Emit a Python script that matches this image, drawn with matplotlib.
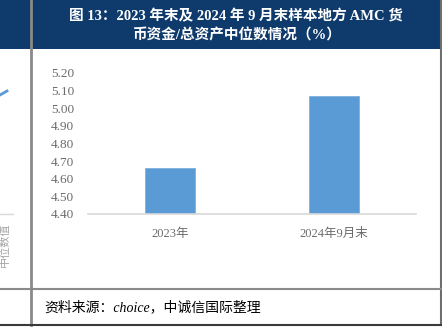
import matplotlib.pyplot as plt
from matplotlib.patches import Rectangle
from matplotlib.lines import Line2D

categories = ['2023年', '2024年9月末']
values = [4.66, 5.07]
y_ticks = [4.40, 4.50, 4.60, 4.70, 4.80, 4.90, 5.00, 5.10, 5.20]

W, H = 442, 336
SERIF_CJK = ['Liberation Serif', 'Noto Sans CJK SC']

fig = plt.figure(figsize=(W / 100, H / 100), dpi=100)
fig.patch.set_facecolor('white')


def fx(px):
    return px / W


def fy(py):
    return 1 - py / H


# title band
fig.patches.append(Rectangle((0, fy(49)), 1, 49 / H, transform=fig.transFigure,
                             facecolor='#0E3A6C', edgecolor='none', zorder=0))
fig.text(fx(236), fy(16), '图 13：2023 年末及 2024 年 9 月末样本地方 AMC 货',
         ha='center', va='center', color='white', fontsize=10.5,
         fontweight='bold', family=SERIF_CJK)
fig.text(fx(236), fy(35), '币资金/总资产中位数情况（%）',
         ha='center', va='center', color='white', fontsize=10.5,
         fontweight='bold', family=SERIF_CJK)

# frame lines
frame = [
    ([fx(31), fx(31)], [fy(0), fy(325)], '#8A8A8A', 2.0),
    ([fx(440.5), fx(440.5)], [fy(0), fy(325)], '#6E6E6E', 1.5),
    ([0, 1], [fy(289), fy(289)], '#8A8A8A', 1.5),
    ([0, 1], [fy(325), fy(325)], '#3A3A3A', 1.5),
    ([0, fx(13)], [fy(213.5), fy(213.5)], '#D9D9D9', 1.0),
    ([0, fx(7)], [fy(95), fy(91)], '#5B9BD5', 2.0),
]
for xs, ys, c, lw in frame:
    fig.add_artist(Line2D(xs, ys, transform=fig.transFigure, color=c, lw=lw))

fig.text(fx(5), fy(245), '中位数值', rotation=90, ha='center', va='center',
         color='#A6A6A6', fontsize=8, family=['Noto Sans CJK SC'])

# source note
fig.text(fx(44), fy(307), '资料来源：choice，中诚信国际整理', ha='left',
         va='center', fontsize=10, style='italic', color='black',
         family=SERIF_CJK)

# bar chart
ax = fig.add_axes([fx(88), fy(214), fx(416) - fx(88), (214 - 72.7) / H])
ax.bar(range(len(categories)), values, width=0.31, color='#5B9BD5',
       edgecolor='#7EB0DE', linewidth=0.6, zorder=2)
ax.set_ylim(4.40, 5.20)
ax.set_xlim(-0.5, 1.5)
ax.set_yticks(y_ticks)
ax.set_yticklabels([f'{v:.2f}' for v in y_ticks], family='Liberation Serif',
                   fontsize=9.5, color='#6B6B6B')
ax.set_xticks(range(len(categories)))
ax.set_xticklabels(categories, family=SERIF_CJK, fontsize=9, color='#6B6B6B')
ax.tick_params(axis='y', length=0, pad=10)
ax.tick_params(axis='x', length=0, pad=10)
for side in ['top', 'right', 'left']:
    ax.spines[side].set_visible(False)
ax.spines['bottom'].set_color('#D9D9D9')
ax.spines['bottom'].set_linewidth(1.2)
ax.set_facecolor('none')

fig.savefig('out.png', dpi=100)
